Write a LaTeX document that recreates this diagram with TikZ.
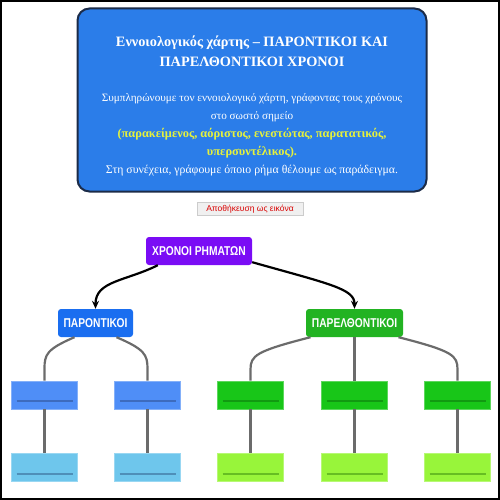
\documentclass[tikz,border=0pt]{standalone}
\usepackage{fontspec}
\setmainfont{Liberation Serif}
\newfontfamily\lsans{Liberation Sans}
\newfontfamily\nsans[FakeStretch=0.8]{Liberation Sans}
\usetikzlibrary{arrows.meta}
\definecolor{infoblue}{HTML}{2B7DE9}
\definecolor{infoedge}{HTML}{1B2B48}
\definecolor{hiyellow}{HTML}{E6F23C}
\definecolor{violetnode}{HTML}{7A0CF5}
\definecolor{presblue}{HTML}{1A6EF0}
\definecolor{pastgreen}{HTML}{22B322}
\definecolor{childblue}{HTML}{4F8EF7}
\definecolor{childblueul}{HTML}{3D6BBE}
\definecolor{gchildblue}{HTML}{6EC6EC}
\definecolor{gchildblueul}{HTML}{4E8FB8}
\definecolor{childgreen}{HTML}{18C618}
\definecolor{childgreenul}{HTML}{119A11}
\definecolor{gchildgreen}{HTML}{98F53A}
\definecolor{gchildgreenul}{HTML}{66BE22}
\definecolor{connector}{HTML}{6B6B6B}
\tikzset{
  infobox/.style={draw=infoedge, line width=2pt, fill=infoblue, rounded corners=12pt,
    minimum width=349pt, minimum height=183pt, inner sep=0pt},
  titletext/.style={text=white, align=center, font=\fontsize{14.3}{19.5}\selectfont\bfseries, inner sep=0pt},
  bodytext/.style={text=white, align=center, font=\fontsize{11.2}{18}\selectfont, inner sep=0pt},
  savebtn/.style={draw=black!20, fill=black!6, text=red!85!black, font=\lsans\fontsize{8.5}{9}\selectfont,
    minimum width=106pt, minimum height=13pt, inner sep=0pt},
  topicbox/.style={rounded corners=3pt, minimum height=28pt, inner sep=0pt, text=white,
    font=\nsans\bfseries\fontsize{12.8}{13}\selectfont},
  leafbox/.style={minimum width=66pt, minimum height=28pt, inner sep=0pt, line width=0.8pt},
  leafline/.style={path picture={
    \draw[#1, line width=2pt] ([xshift=5pt,yshift=8pt]path picture bounding box.south west)
      -- ([xshift=-5pt,yshift=8pt]path picture bounding box.south east);}},
  link/.style={draw=connector, line width=2.2pt},
  mainarrow/.style={draw=black, line width=2.2pt, -{Stealth[length=8pt,width=7pt]}},
}
\begin{document}
\begin{tikzpicture}[x=1pt,y=-1pt]
\useasboundingbox (0,0) rectangle (500,500);
\draw[black, line width=2pt] (1,1) rectangle (499,499);

% information box
\node[infobox] (info) at (252,100) {};
\node[titletext] (title) at (252,51.5) {Εννοιολογικός χάρτης – ΠΑΡΟΝΤΙΚΟΙ ΚΑΙ\\ΠΑΡΕΛΘΟΝΤΙΚΟΙ ΧΡΟΝΟΙ};
\node[bodytext] (body) at (252,135) {Συμπληρώνουμε τον εννοιολογικό χάρτη, γράφοντας τους χρόνους\\
στο σωστό σημείο\\
\textcolor{hiyellow}{\bfseries\fontsize{12.4}{18}\selectfont (παρακείμενος, αόριστος, ενεστώτας, παρατατικός,}\\
\textcolor{hiyellow}{\bfseries\fontsize{12.4}{18}\selectfont υπερσυντέλικος).}\\
{\fontsize{11.8}{18}\selectfont Στη συνέχεια, γράφουμε όποιο ρήμα θέλουμε ως παράδειγμα.}};

% save button
\node[savebtn] (save) at (250,209) {Αποθήκευση ως εικόνα};

% top node
\node[topicbox, fill=violetnode, minimum width=106pt] (root) at (199,251) {ΧΡΟΝΟΙ ΡΗΜΑΤΩΝ};
\node[topicbox, fill=presblue, minimum width=75pt] (pres) at (95.5,323) {ΠΑΡΟΝΤΙΚΟΙ};
\node[topicbox, fill=pastgreen, minimum width=97pt] (past) at (354.5,323) {ΠΑΡΕΛΘΟΝΤΙΚΟΙ};

\draw[mainarrow] ([xshift=12pt]root.south west) .. controls +(-32,16) and +(0,-28) .. (pres.north);
\draw[mainarrow] ([yshift=3pt]root.south east) .. controls +(78,22) and +(0,-20) .. (past.north);

% children
\node[leafbox, fill=childblue, draw=childblue!70!white, leafline=childblueul] (pc1) at (44.5,395) {};
\node[leafbox, fill=childblue, draw=childblue!70!white, leafline=childblueul] (pc2) at (147.5,395) {};
\node[leafbox, fill=gchildblue, draw=gchildblue!70!white, leafline=gchildblueul] (pg1) at (44.5,467.5) {};
\node[leafbox, fill=gchildblue, draw=gchildblue!70!white, leafline=gchildblueul] (pg2) at (147.5,467.5) {};

\node[leafbox, fill=childgreen, draw=childgreen!70!white, leafline=childgreenul] (qc1) at (250.5,395) {};
\node[leafbox, fill=childgreen, draw=childgreen!70!white, leafline=childgreenul] (qc2) at (354.5,395) {};
\node[leafbox, fill=childgreen, draw=childgreen!70!white, leafline=childgreenul] (qc3) at (457.5,395) {};
\node[leafbox, fill=gchildgreen, draw=gchildgreen!70!white, leafline=gchildgreenul] (qg1) at (250.5,467.5) {};
\node[leafbox, fill=gchildgreen, draw=gchildgreen!70!white, leafline=gchildgreenul] (qg2) at (354.5,467.5) {};
\node[leafbox, fill=gchildgreen, draw=gchildgreen!70!white, leafline=gchildgreenul] (qg3) at (457.5,467.5) {};

% tree links
\draw[link] ([xshift=-21pt]pres.south) .. controls +(-28,12) and +(0,-14) .. ([yshift=12pt]pc1.north) -- (pc1.north);
\draw[link] ([xshift=21pt]pres.south) .. controls +(28,12) and +(0,-14) .. ([yshift=12pt]pc2.north) -- (pc2.north);
\draw[link] ([xshift=-44pt]past.south) .. controls +(-55,14) and +(0,-14) .. ([yshift=11pt]qc1.north) -- (qc1.north);
\draw[link] (past.south) -- (qc2.north);
\draw[link] ([xshift=44pt]past.south) .. controls +(55,14) and +(0,-14) .. ([yshift=11pt]qc3.north) -- (qc3.north);

\draw[link] (pc1.south) -- (pg1.north);
\draw[link] (pc2.south) -- (pg2.north);
\draw[link] (qc1.south) -- (qg1.north);
\draw[link] (qc2.south) -- (qg2.north);
\draw[link] (qc3.south) -- (qg3.north);
\end{tikzpicture}
\end{document}
